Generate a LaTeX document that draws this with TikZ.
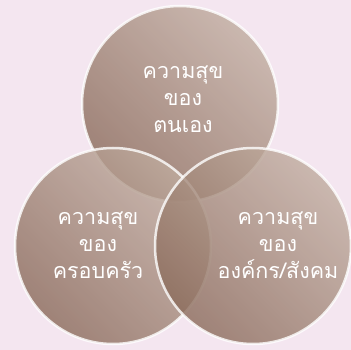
\documentclass[tikz,border=0pt]{standalone}
\usepackage{fontspec}
\newfontfamily\thaifont[Script=Thai]{Loma}
\definecolor{bg}{HTML}{F4E6F0}
\definecolor{clight}{HTML}{C0AC9F}
\definecolor{cdark}{HTML}{8A6A5A}
\tikzset{
  bubble/.style={circle, minimum size=196pt, inner sep=0pt, draw=white, line width=2.5pt, opacity=0.8,
    shading=axis, top color=clight, bottom color=cdark, shading angle=-45},
  lbl/.style={text=white, font=\thaifont\fontsize{21.5pt}{27pt}\selectfont, align=center}
}
\begin{document}
\begin{tikzpicture}[x=1pt,y=-1pt]
\fill[bg] (0,0) rectangle (351,350);
\useasboundingbox (0,0) rectangle (351,350);
\node[bubble] (top) at (180,104) {};
\node[bubble] (left) at (113,246) {};
\node[bubble] (right) at (253,246) {};
\node[lbl] (ttop) at (183,99) {ความสุข\\ของ\\ตนเอง};
\node[lbl] (tleft) at (98,245) {ความสุข\\ของ\\ครอบครัว};
\node[lbl] (tright) at (278,245) {ความสุข\\ของ\\องค์กร/สังคม};
\end{tikzpicture}
\end{document}
